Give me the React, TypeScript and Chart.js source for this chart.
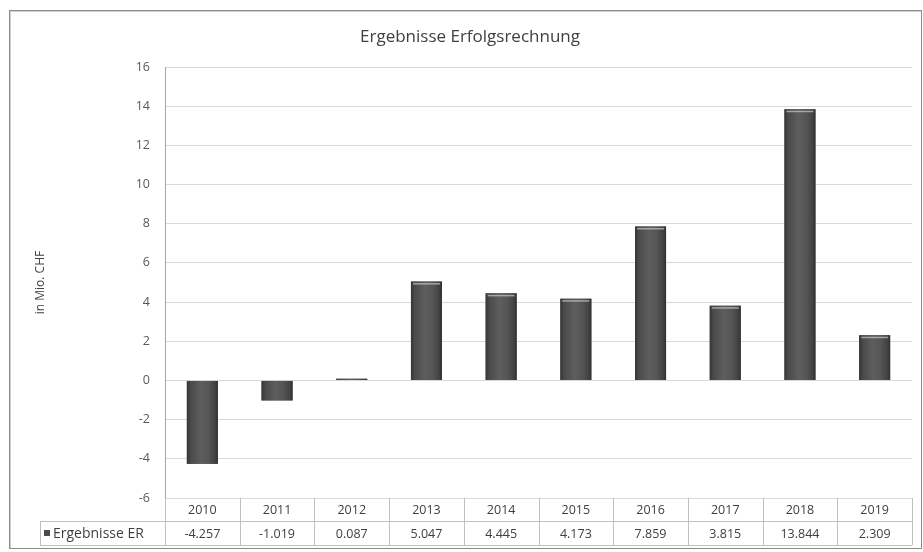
import React, { useEffect, useRef } from "react";
import { Chart, registerables } from "chart.js";

Chart.register(...registerables);

const chartTitle = "Ergebnisse Erfolgsrechnung";
const yAxisTitle = "in Mio. CHF";
const seriesName = "Ergebnisse ER";
const years = ["2010", "2011", "2012", "2013", "2014", "2015", "2016", "2017", "2018", "2019"];
const values = [-4.257, -1.019, 0.087, 5.047, 4.445, 4.173, 7.859, 3.815, 13.844, 2.309];
const yMin = -6;
const yMax = 16;
const yStep = 2;

const FONT = "'Open Sans', Lato, 'DejaVu Sans', sans-serif";
const TEXT = "#404040";
const LINE = "#bfbfbf";

const barStylePlugin = {
  id: "barStyle",
  afterDatasetsDraw(chart: any) {
    const ctx = chart.ctx;
    const meta = chart.getDatasetMeta(0);
    ctx.save();
    meta.data.forEach((el: any) => {
      const p = el.getProps(["x", "y", "base", "width"], true);
      const left = p.x - p.width / 2;
      const top = Math.min(p.y, p.base);
      const h = Math.abs(p.base - p.y);
      const g = ctx.createLinearGradient(left, 0, left + p.width, 0);
      g.addColorStop(0, "#353535");
      g.addColorStop(0.12, "#4a4a4a");
      g.addColorStop(0.45, "#5e5e5e");
      g.addColorStop(0.7, "#555555");
      g.addColorStop(0.9, "#444444");
      g.addColorStop(1, "#303030");
      ctx.fillStyle = g;
      ctx.fillRect(left, top, p.width, h);
      if (p.y < p.base && h > 4) {
        ctx.fillStyle = "rgba(200,200,200,0.7)";
        ctx.fillRect(left + 2, top + 1.5, p.width - 4, 1.5);
      }
    });
    ctx.restore();
  },
};

const tablePlugin = {
  id: "dataTable",
  afterDraw(chart: any) {
    const ctx = chart.ctx;
    const area = chart.chartArea;
    const L = area.left;
    const R = area.right;
    const B = area.bottom;
    const n = years.length;
    const w = (R - L) / n;
    const y1 = B + 23;
    const y2 = B + 47;
    const keyLeft = 40;
    ctx.save();
    ctx.strokeStyle = LINE;
    ctx.lineWidth = 1;
    ctx.beginPath();
    for (let i = 0; i <= n; i++) {
      const x = Math.round(L + i * w) + 0.5;
      ctx.moveTo(x, B);
      ctx.lineTo(x, y2);
    }
    ctx.moveTo(keyLeft + 0.5, y1);
    ctx.lineTo(keyLeft + 0.5, y2);
    ctx.moveTo(keyLeft, y1 + 0.5);
    ctx.lineTo(R, y1 + 0.5);
    ctx.moveTo(keyLeft, y2 + 0.5);
    ctx.lineTo(R, y2 + 0.5);
    ctx.stroke();

    ctx.fillStyle = TEXT;
    ctx.font = "12.5px " + FONT;
    ctx.textAlign = "center";
    ctx.textBaseline = "middle";
    for (let i = 0; i < n; i++) {
      const cx = L + (i + 0.5) * w;
      ctx.fillText(years[i], cx, (B + y1) / 2 + 1);
      ctx.fillText(values[i].toFixed(3), cx, (y1 + y2) / 2 + 1);
    }
    ctx.fillStyle = "#4a4a4a";
    ctx.fillRect(keyLeft + 4, (y1 + y2) / 2 - 3, 6, 6);
    ctx.fillStyle = TEXT;
    ctx.textAlign = "left";
    ctx.font = "14px " + FONT;
    ctx.fillText(seriesName, keyLeft + 13, (y1 + y2) / 2 + 1);
    ctx.restore();
  },
};

export default function App() {
  const ref = useRef<HTMLCanvasElement | null>(null);

  useEffect(() => {
    if (!ref.current) return;
    const chart = new Chart(ref.current, {
      type: "bar",
      data: {
        labels: years,
        datasets: [
          {
            label: seriesName,
            data: values,
            backgroundColor: "#4a4a4a",
            borderWidth: 0,
            barPercentage: 0.415,
            categoryPercentage: 1,
          },
        ],
      },
      options: {
        animation: false,
        responsive: false,
        devicePixelRatio: 1,
        layout: { padding: { left: 28, right: 11, top: 0, bottom: 54 } },
        plugins: {
          legend: { display: false },
          tooltip: { enabled: false },
          title: {
            display: true,
            text: chartTitle,
            color: TEXT,
            font: { family: FONT, size: 17, weight: "normal" },
            padding: { top: 27, bottom: 19.6 },
          },
        },
        scales: {
          x: {
            display: false,
          },
          y: {
            min: yMin,
            max: yMax,
            afterFit: (scale: any) => {
              scale.width = 137;
            },
            ticks: {
              stepSize: yStep,
              color: "#595959",
              font: { family: FONT, size: 12.5 },
              padding: 15,
            },
            grid: { color: "#d9d9d9", drawTicks: false },
            border: { display: true, color: "#a6a6a6" },
            title: {
              display: true,
              text: yAxisTitle,
              color: TEXT,
              font: { family: FONT, size: 12 },
              padding: { top: 5, bottom: 0 },
            },
          },
        },
      },
      plugins: [barStylePlugin, tablePlugin],
    } as any);
    return () => chart.destroy();
  }, []);

  return (
    <div style={{ position: "fixed", left: 0, top: 0, width: 923, height: 552, background: "#fff" }}>
      <canvas ref={ref} width={923} height={552} style={{ display: "block", position: "absolute", left: 0, top: 0 }} />
      <div
        style={{
          position: "absolute",
          left: 9,
          top: 10,
          width: 911,
          height: 537,
          border: "1px solid #8c8c8c",
          boxShadow: "inset 1px 1px 0 #d0d0d0",
          pointerEvents: "none",
        }}
      />
    </div>
  );
}
